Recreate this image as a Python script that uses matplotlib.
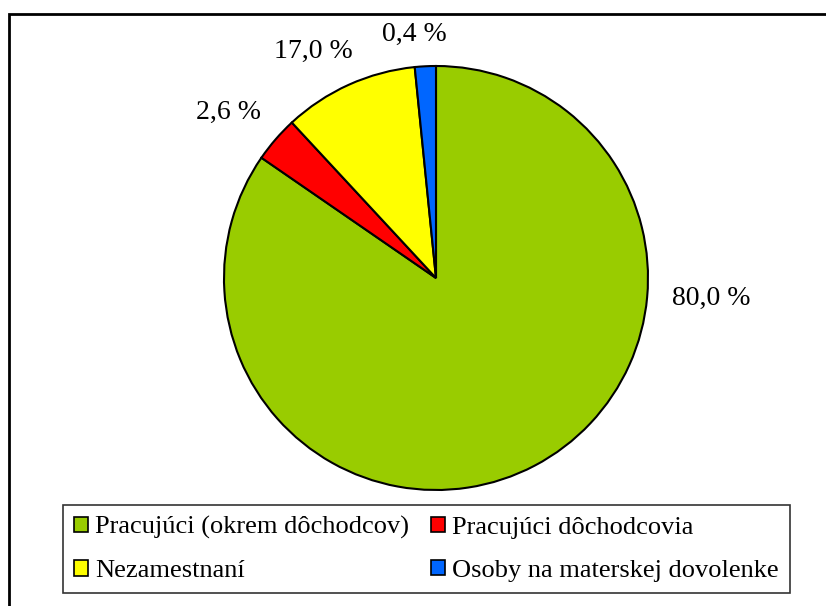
import matplotlib
matplotlib.use("Agg")
import matplotlib.pyplot as plt
from matplotlib.patches import Rectangle, Patch

categories = ["Pracujúci (okrem dôchodcov)", "Pracujúci dôchodcovia",
              "Nezamestnaní", "Osoby na materskej dovolenke"]
# slice sizes as drawn in the picture (angles, in %)
drawn_share = [84.6, 3.5, 10.3, 1.6]
# labels printed on the chart
label_text = ["80,0 %", "2,6 %", "17,0 %", "0,4 %"]
colors = ["#99CC00", "#FF0000", "#FFFF00", "#0066FF"]
label_pos = [(1.30, -0.094), (-0.98, 0.78), (-0.58, 1.07), (-0.10, 1.15)]

plt.rcParams['font.family'] = ['Liberation Serif', 'DejaVu Serif']

W, H = 826, 606
fig = plt.figure(figsize=(W / 100, H / 100), dpi=100)

cx, cy, r = 436, 278, 212
ax = fig.add_axes([(cx - r) / W, (H - cy - r) / H, 2 * r / W, 2 * r / H])
ax.pie(drawn_share, colors=colors, startangle=90, counterclock=False,
       wedgeprops=dict(edgecolor="black", linewidth=1.5), radius=1)
ax.set_xlim(-1, 1)
ax.set_ylim(-1, 1)
ax.set_aspect("equal")
ax.axis("off")

for t, (x, y) in zip(label_text, label_pos):
    ax.text(x, y, t, ha="center", va="center", fontsize=20, color="black")

# outer frame (cut off at right and bottom)
fig.patches.append(Rectangle((9 / W, -0.1), 1.2, (H - 14) / H + 0.1,
                             transform=fig.transFigure, fill=False,
                             edgecolor="black", linewidth=2.0))

# legend filled column by column -> reorder so rows read green, red / yellow, blue
order = [0, 2, 1, 3]
handles = [Patch(facecolor=colors[i], edgecolor="black", linewidth=1.2) for i in order]
labels = [categories[i] for i in order]
leg = fig.legend(handles, labels, ncol=2,
                 bbox_to_anchor=(63 / W, (H - 592) / H, 727 / W, 87 / H),
                 loc="upper left", mode="expand", frameon=True, fancybox=False,
                 fontsize=19, handlelength=0.52, handleheight=0.52,
                 handletextpad=0.28, borderpad=0.42, labelspacing=0.8,
                 columnspacing=0.7, borderaxespad=0)
leg.get_frame().set_edgecolor("black")
leg.get_frame().set_linewidth(1.2)

fig.savefig("out.png", dpi=100)
